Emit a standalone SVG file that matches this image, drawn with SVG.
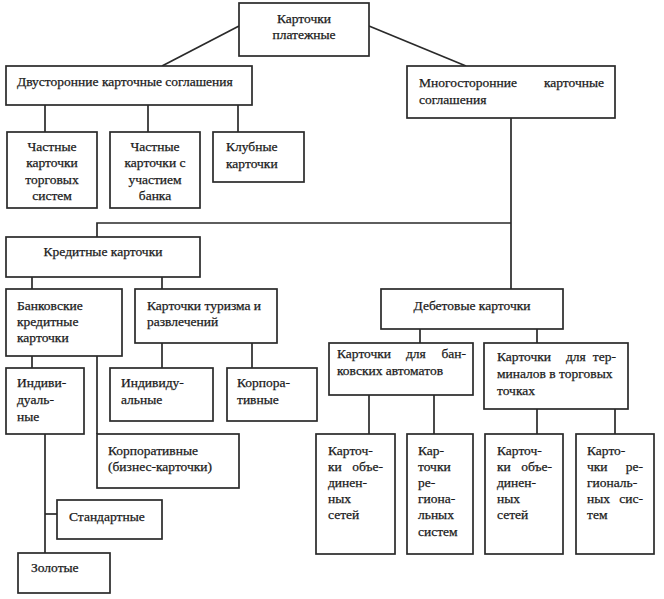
<svg xmlns="http://www.w3.org/2000/svg" width="664" height="599" viewBox="0 0 664 599">
<style>
.b{fill:#fff;stroke:#2a2a2a;stroke-width:1.7}
.c{fill:none;stroke:#2a2a2a;stroke-width:1.7}
text{font-family:"Liberation Serif","Times New Roman",serif;font-size:13.5px;fill:#1a1a1a;stroke:#1a1a1a;stroke-width:0.25}
.m{text-anchor:middle}
</style>
<rect width="664" height="599" fill="#fff"/>
<g id="connectors">
<line class="c" x1="239" y1="26" x2="162" y2="66"/>
<line class="c" x1="369" y1="26" x2="466" y2="66"/>
<line class="c" x1="45" y1="105" x2="45" y2="132"/>
<line class="c" x1="148" y1="105" x2="148" y2="132"/>
<line class="c" x1="238" y1="105" x2="238" y2="132"/>
<line class="c" x1="511" y1="118" x2="511" y2="289"/>
<polyline class="c" points="97,237 97,223 511,223"/>
<line class="c" x1="32" y1="277" x2="32" y2="289"/>
<line class="c" x1="162" y1="277" x2="162" y2="289"/>
<line class="c" x1="32" y1="356" x2="32" y2="368"/>
<line class="c" x1="97" y1="356" x2="97" y2="434"/>
<line class="c" x1="162" y1="343" x2="162" y2="368"/>
<line class="c" x1="252" y1="343" x2="252" y2="368"/>
<line class="c" x1="45" y1="434" x2="45" y2="553"/>
<line class="c" x1="45" y1="514" x2="57" y2="514"/>
<line class="c" x1="420" y1="329" x2="420" y2="343"/>
<line class="c" x1="537" y1="329" x2="537" y2="343"/>
<line class="c" x1="369" y1="395" x2="369" y2="434"/>
<line class="c" x1="434" y1="395" x2="434" y2="434"/>
<line class="c" x1="537" y1="409" x2="537" y2="434"/>
<line class="c" x1="615" y1="409" x2="615" y2="434"/>
</g>
<g id="n-root"><rect class="b" x="239" y="3" width="130" height="53"/>
<text class="m" x="304" y="23">Карточки</text><text class="m" x="304" y="39">платежные</text></g>
<g id="n-dvu"><rect class="b" x="6" y="66" width="246" height="39"/>
<text x="17" y="86">Двусторонние карточные соглашения</text></g>
<g id="n-mno"><rect class="b" x="407" y="66" width="208" height="52"/>
<text x="419" y="87">Многосторонние</text><text x="604" y="87" text-anchor="end">карточные</text>
<text x="419" y="104">соглашения</text></g>
<g id="n-chast1"><rect class="b" x="7" y="132" width="90" height="76"/>
<text class="m" x="52" y="151">Частные</text><text class="m" x="52" y="167">карточки</text>
<text class="m" x="52" y="184">торговых</text><text class="m" x="52" y="200">систем</text></g>
<g id="n-chast2"><rect class="b" x="110" y="132" width="90" height="76"/>
<text class="m" x="155" y="151">Частные</text><text class="m" x="155" y="167">карточки с</text>
<text class="m" x="155" y="184">участием</text><text class="m" x="155" y="200">банка</text></g>
<g id="n-klub"><rect class="b" x="213" y="132" width="91" height="50"/>
<text x="226" y="151">Клубные</text><text x="226" y="168">карточки</text></g>
<g id="n-kred"><rect class="b" x="6" y="237" width="194" height="40"/>
<text class="m" x="103" y="256">Кредитные карточки</text></g>
<g id="n-bank"><rect class="b" x="6" y="289" width="116" height="67"/>
<text x="17" y="310">Банковские</text><text x="17" y="326">кредитные</text><text x="17" y="342">карточки</text></g>
<g id="n-tur"><rect class="b" x="135" y="289" width="142" height="54"/>
<text x="147" y="310">Карточки туризма и</text><text x="147" y="326">развлечений</text></g>
<g id="n-ind1"><rect class="b" x="6" y="368" width="78" height="66"/>
<text x="17" y="387">Индиви-</text><text x="17" y="404">дуаль-</text><text x="17" y="421">ные</text></g>
<g id="n-ind2"><rect class="b" x="110" y="368" width="103" height="53"/>
<text x="121" y="387">Индивиду-</text><text x="121" y="404">альные</text></g>
<g id="n-korp2"><rect class="b" x="227" y="368" width="90" height="53"/>
<text x="237" y="387">Корпора-</text><text x="237" y="404">тивные</text></g>
<g id="n-korp1"><rect class="b" x="97" y="434" width="142" height="54"/>
<text x="108" y="455">Корпоративные</text><text x="108" y="471">(бизнес-карточки)</text></g>
<g id="n-std"><rect class="b" x="57" y="500" width="105" height="39"/>
<text x="69" y="521">Стандартные</text></g>
<g id="n-gold"><rect class="b" x="18" y="553" width="92" height="40"/>
<text x="31" y="572">Золотые</text></g>
<g id="n-deb"><rect class="b" x="381" y="289" width="182" height="40"/>
<text class="m" x="472" y="310">Дебетовые карточки</text></g>
<g id="n-atm"><rect class="b" x="329" y="343" width="144" height="52"/>
<text x="337" y="358">Карточки</text><text x="406" y="358">для</text><text x="466" y="358" text-anchor="end">бан-</text>
<text x="337" y="375">ковских автоматов</text></g>
<g id="n-term"><rect class="b" x="484" y="343" width="144" height="66"/>
<text x="497" y="361">Карточки</text><text x="566" y="361">для</text><text x="616" y="361" text-anchor="end">тер-</text>
<text x="497" y="378">миналов в торговых</text><text x="497" y="395">точках</text></g>
<g id="n-b1"><rect class="b" x="316" y="434" width="79" height="120"/>
<text x="328" y="455">Карточ-</text><text x="328" y="471">ки</text><text x="383" y="471" text-anchor="end">объе-</text>
<text x="328" y="487">динен-</text><text x="328" y="503">ных</text><text x="328" y="519">сетей</text></g>
<g id="n-b2"><rect class="b" x="407" y="434" width="66" height="120"/>
<text x="418" y="455">Кар-</text><text x="418" y="471">точки</text><text x="418" y="487">ре-</text>
<text x="418" y="503">гиона-</text><text x="418" y="519">льных</text><text x="418" y="536">систем</text></g>
<g id="n-b3"><rect class="b" x="485" y="434" width="78" height="120"/>
<text x="497" y="455">Карточ-</text><text x="497" y="471">ки</text><text x="552" y="471" text-anchor="end">объе-</text>
<text x="497" y="487">динен-</text><text x="497" y="503">ных</text><text x="497" y="519">сетей</text></g>
<g id="n-b4"><rect class="b" x="576" y="434" width="78" height="120"/>
<text x="587" y="455">Карто-</text><text x="587" y="471">чки</text><text x="643" y="471" text-anchor="end">ре-</text>
<text x="587" y="487">гиональ-</text><text x="587" y="503">ных</text><text x="643" y="503" text-anchor="end">сис-</text><text x="587" y="519">тем</text></g>
</svg>
